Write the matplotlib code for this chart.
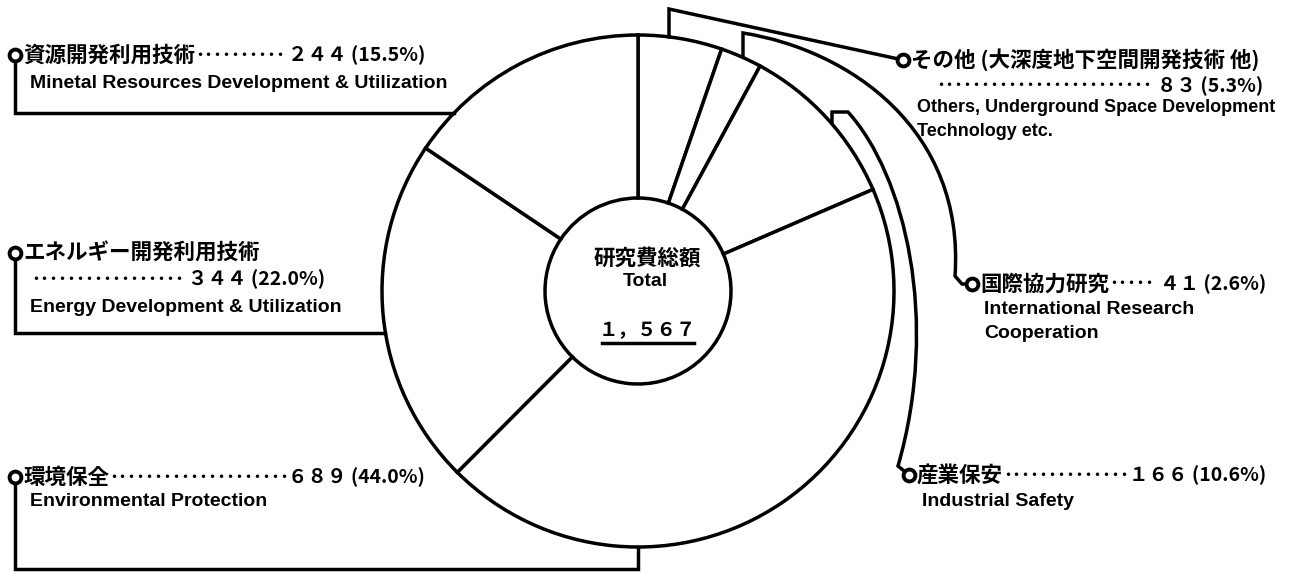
import matplotlib
matplotlib.use('Agg')
import numpy as np
import matplotlib.pyplot as plt
from matplotlib.path import Path
from matplotlib.patches import PathPatch

# research budget by field, clockwise from the top of the ring
names_jp = ['その他 (大深度地下空間開発技術 他)', '国際協力研究', '産業保安',
            '環境保全', 'エネルギー開発利用技術', '資源開発利用技術']
names_en = [['Others, Underground Space Development', 'Technology etc.'],
            ['International Research', 'Cooperation'],
            ['Industrial Safety'],
            ['Environmental Protection'],
            ['Energy Development & Utilization'],
            ['Minetal Resources Development & Utilization']]
values = [83, 41, 166, 689, 344, 244]
shares = [5.3, 2.6, 10.6, 44.0, 22.0, 15.5]

W, H = 1294, 572
cx, cy, r_out, r_in = 638, 291, 256, 93
LW = 2.5

JP = ['Noto Sans CJK JP', 'DejaVu Sans']
EN = ['Liberation Sans', 'DejaVu Sans']
fw = str.maketrans('0123456789,', '０１２３４５６７８９，')

fig = plt.figure(figsize=(W / 100, H / 100), dpi=100)
ax = fig.add_axes([0, 0, 1, 1])

# y axis runs downward, so startangle=-90 is the top and counterclock runs clockwise on screen
ax.pie(values, radius=r_out, center=(cx, cy), startangle=-90, counterclock=True,
       wedgeprops=dict(width=r_out - r_in, facecolor='white', edgecolor='black', linewidth=LW))
ax.set_xlim(0, W)
ax.set_ylim(H, 0)
ax.set_aspect('equal')
ax.axis('off')
renderer = fig.canvas.get_renderer()


def edge_y(x, side=-1):
    return cy + side * np.sqrt(r_out**2 - (x - cx)**2)


def edge_x(y, side=-1):
    return cx + side * np.sqrt(r_out**2 - (y - cy)**2)


# leader lines (marker end first)
markers = [(903, 60), (972, 284), (909, 475), (15, 477), (15, 253), (15, 55)]
leaders = [
    [(903, 60), (669, 9), (669, edge_y(669))],
    [(15, 477), (15, 569), (cx, 569), (cx, cy + r_out)],
    [(15, 253), (15, 333), (edge_x(333), 333)],
    [(15, 55), (15, 113), (edge_x(113), 113)],
]
for pts in leaders:
    xs, ys = zip(*pts)
    ax.plot(xs, ys, color='black', lw=LW, solid_joinstyle='miter')

curves = [
    # international cooperation
    [((743, edge_y(743)), Path.MOVETO), ((743, 33), Path.LINETO),
     ((850, 50), Path.CURVE4), ((965, 130), Path.CURVE4), ((955, 276), Path.CURVE4),
     ((962, 284), Path.LINETO), ((972, 284), Path.LINETO)],
    # industrial safety
    [((832, edge_y(832)), Path.MOVETO), ((832, 112), Path.LINETO), ((848, 112), Path.LINETO),
     ((905, 175), Path.CURVE4), ((940, 320), Path.CURVE4), ((898, 466), Path.CURVE4),
     ((909, 475), Path.LINETO)],
]
for c in curves:
    verts, codes = zip(*c)
    ax.add_patch(PathPatch(Path(verts, codes), fill=False, edgecolor='black', lw=LW,
                           joinstyle='miter'))

for mx, my in markers:
    ax.plot(mx, my, 'o', ms=8.5, mfc='white', mec='black', mew=2.8, zorder=6)


def jp_text(x, y, s, size=15.5, ha='left'):
    return ax.text(x, y, s, family=JP, weight='bold', fontsize=size, ha=ha, va='center')


def dotted_entry(x0, y, name, num, x_end):
    # name, a run of leader dots, then the amount right-aligned at x_end
    x = x0
    if name:
        x = jp_text(x0, y, name).get_window_extent(renderer).x1
    x2 = jp_text(x_end, y, num, size=14, ha='right').get_window_extent(renderer).x0
    probe = jp_text(0, 0, '･' * 10, size=13)
    step = probe.get_window_extent(renderer).width / 10
    probe.remove()
    jp_text(x, y, '･' * int((x2 - x + 2) / step), size=13)


# labels
num_end = [1263, 1266, 1266, 425, 325, 425]
split_x = [936, None, None, None, 31, None]   # number on its own line
en_pos = [(917, 107), (984, 309), (922, 501), (30, 502), (30, 308), (30, 83)]
en_size = [13, 14, 14, 14, 14, 14]

for i in range(len(values)):
    mx, my = markers[i]
    num = f'{str(values[i]).translate(fw)} ({shares[i]:.1f}%)'
    if split_x[i] is None:
        dotted_entry(mx + 8, my, names_jp[i], num, num_end[i])
    else:
        jp_text(mx + 8, my, names_jp[i])
        dotted_entry(split_x[i], my + 26, None, num, num_end[i])
    ex, ey = en_pos[i]
    for k, line in enumerate(names_en[i]):
        ax.text(ex, ey + 24 * k, line, family=EN, weight='bold', fontsize=en_size[i],
                ha='left', va='center')

# centre of the ring
jp_text(cx + 9, 258, '研究費総額', ha='center')
ax.text(cx + 7, 282, 'Total', family=EN, weight='bold', fontsize=14, ha='center', va='center')
jp_text(cx + 9, 331, f'{sum(values):,}'.translate(fw), size=14, ha='center')
ax.plot([602, 694], [343, 343], color='black', lw=LW)

fig.savefig('out.png', dpi=100)
